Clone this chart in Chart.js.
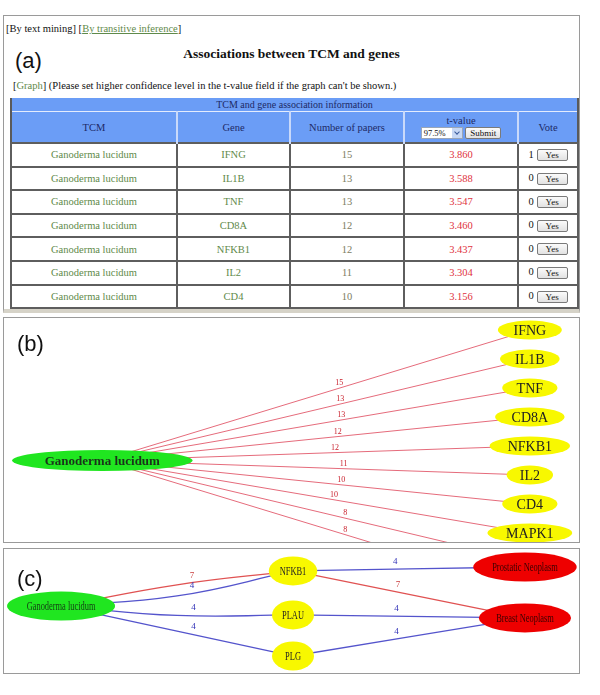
<!DOCTYPE html>
<html>
<head>
<meta charset="utf-8">
<script src="https://cdn.jsdelivr.net/npm/chart.js@4.4.1/dist/chart.umd.min.js"></script>
<style>
  body { margin:0; width:600px; height:695px; background:#fff; position:relative; overflow:hidden;
         font-family:"Liberation Serif","DejaVu Serif",serif; color:#111; }
  .panel { position:absolute; left:3px; width:575px; border:1px solid #9a9a9a; background:#fff; }
  #panelA { top:15px; height:293px; border-bottom:4px solid #d6d3c8; }
  #panelB { top:317px; height:224px; }
  #panelC { top:548px; height:124px; }
  .plabel { position:absolute; font-family:"Liberation Sans",Arial,sans-serif; font-size:22px; line-height:22px; color:#111; z-index:2; }
  .lnk { color:#5f8a4a; }
  .u { text-decoration:underline; }
  #tabs { position:absolute; left:2px; top:6px; font-size:10.5px; line-height:14px; }
  #title { position:absolute; left:0; width:575px; top:30px; text-align:center; font-weight:bold; font-size:13.5px; line-height:16px; }
  #graphLine { position:absolute; left:9px; top:63px; font-size:10.5px; line-height:14px; }
  #assoc { position:absolute; left:6px; top:82px; width:567px; border-collapse:collapse; table-layout:fixed;
           font-size:10.5px; border-left:2px solid #5a5a5a; border-right:2px solid #5a5a5a; }
  #assoc td, #assoc th { padding:0; text-align:center; }
  #assoc tr.bar td { background:#6b9df6; color:#1d2a66; height:13px; font-size:10px; line-height:12px; border-bottom:1px solid #e4ecfd; }
  #assoc tr.head th { background:#6b9df6; color:#1d2a66; font-weight:normal; height:30px; line-height:11px;
                      border-left:2px solid #c9d9fa; vertical-align:middle; }
  #assoc tr.head th:first-child { border-left:none; }
  #assoc tr.row td { height:21.6px; border:2px solid #5e5e5e; color:#5f8a4a; }
  #assoc tr.row td.num { color:#7d7d62; }
  #assoc tr.row td.tv { color:#e0323e; }
  #assoc tr.row td.vote { color:#111; }
  .btn { display:inline-block; border:1px solid #7a7a7a; border-radius:2px; background:linear-gradient(#fbfbfb,#e2e2e2);
         font-size:9px; line-height:10px; height:10px; padding:0 4px; color:#111; vertical-align:middle; }
  .yes { width:21px; text-align:center; margin-left:3px; }
  .sel { display:inline-block; border:1px solid #9aa6b8; background:#fff; font-size:8.5px; line-height:10px; height:10px;
         width:40px; text-align:left; position:relative; vertical-align:middle; color:#111; }
  .sel span.t { padding-left:2px; }
  .sel span.a { position:absolute; right:0; top:0; width:10px; height:10px; background:#c8d8f4; }
  .sel span.a:after { content:""; position:absolute; left:3px; top:2px; width:3px; height:3px;
                      border-right:1px solid #3a5a9a; border-bottom:1px solid #3a5a9a; transform:rotate(45deg); }
  .chartBox { position:absolute; left:0; top:0; width:575px; }
</style>
</head>
<body>

<div id="panelA" class="panel">
  <div id="tabs">[By text mining] [<span class="lnk u">By transitive inference</span>]</div>
  <div class="plabel" style="left:11px; top:34px;">(a)</div>
  <div id="title">Associations between TCM and genes</div>
  <div id="graphLine">[<span class="lnk">Graph</span>] (Please set higher confidence level in the t-value field if the graph can't be shown.)</div>
  <table id="assoc"></table>
</div>

<div id="panelB" class="panel">
  <div class="plabel" style="left:13px; top:15px;">(b)</div>
  <div class="chartBox" style="height:224px;"><canvas id="chartB"></canvas></div>
</div>

<div id="panelC" class="panel">
  <div class="plabel" style="left:13px; top:19px;">(c)</div>
  <div class="chartBox" style="height:124px;"><canvas id="chartC"></canvas></div>
</div>

<script>
// ---- Panel (a): association table
const tcmName = 'Ganoderma lucidum';
const tableGenes = ['IFNG', 'IL1B', 'TNF', 'CD8A', 'NFKB1', 'IL2', 'CD4'];
const tablePapers = [15, 13, 13, 12, 12, 11, 10];
const tableTValues = ['3.860', '3.588', '3.547', '3.460', '3.437', '3.304', '3.156'];
const tableVotes = [1, 0, 0, 0, 0, 0, 0];
const tableColumns = ['TCM', 'Gene', 'Number of papers', 't-value', 'Vote'];
const confidenceLevel = '97.5%';

// ---- Panel (b): TCM -> gene graph (genes listed top to bottom, last two fall below the frame)
const graphGenes = ['IFNG', 'IL1B', 'TNF', 'CD8A', 'NFKB1', 'IL2', 'CD4', 'MAPK1', '', ''];
const graphPapers = [15, 13, 13, 12, 12, 11, 10, 10, 8, 8];

// ---- Panel (c): transitive inference network
const netNodes = ['Ganoderma lucidum', 'NFKB1', 'PLAU', 'PLG', 'Prostatic Neoplasm', 'Breast Neoplasm'];
const netNodeKind = ['tcm', 'gene', 'gene', 'gene', 'disease', 'disease'];
const netNodeCol = [0, 1, 1, 1, 2, 2];
const netNodeRow = [46, 17.7, 53.2, 86.3, 14.5, 55.6];
const netEdgeFrom = [0, 0, 0, 0, 1, 1, 2, 3];
const netEdgeTo = [1, 1, 2, 3, 4, 5, 5, 5];
const netEdgePapers = [7, 4, 4, 4, 4, 7, 4, 4];
const netEdgeType = ['mined', 'inferred', 'inferred', 'inferred', 'inferred', 'mined', 'inferred', 'inferred'];
const netEdgeBend = [-3, 6, 4, 0, 0, 0, 0, 0];

// build table
const table = document.getElementById('assoc');
const colWidths = [166, 113, 114, 114, 60];
let html = '<colgroup>' + colWidths.map(w => `<col style="width:${w}px">`).join('') + '</colgroup>';
html += '<tr class="bar"><td colspan="5">TCM and gene association information</td></tr>';
html += '<tr class="head">' + tableColumns.map(c => {
    if (c === 't-value') {
        return `<th>${c}<br><span class="sel"><span class="t">${confidenceLevel}</span><span class="a"></span></span> <span class="btn">Submit</span></th>`;
    }
    return `<th>${c}</th>`;
}).join('') + '</tr>';
tableGenes.forEach((g, i) => {
    html += `<tr class="row"><td>${tcmName}</td><td>${g}</td><td class="num">${tablePapers[i]}</td>` +
            `<td class="tv">${tableTValues[i]}</td><td class="vote">${tableVotes[i]}<span class="btn yes">Yes</span></td></tr>`;
});
table.innerHTML = html;

// ---- shared drawing for graph nodes and edge labels
const graphPlugin = {
    id: 'graphNodes',
    afterDatasetsDraw(chart, args, opts) {
        const ctx = chart.ctx;
        const area = chart.chartArea;
        const meta = chart.getDatasetMeta(0);
        ctx.save();
        ctx.beginPath();
        ctx.rect(area.left, area.top, area.right - area.left, area.bottom - area.top);
        ctx.clip();

        // node radii from their text
        const radii = opts.nodes.map(n => {
            ctx.font = n.font;
            const tw = ctx.measureText(n.label).width * n.squeeze;
            return Math.max(n.minRx, tw / 2 * 1.41 + n.pad);
        });

        // edge labels
        opts.edges.forEach(e => {
            const pts = chart.getDatasetMeta(e.dataset).data;
            const a = pts[0], b = pts[pts.length - 1];
            const xl = ((a.x + radii[e.from]) + (b.x - radii[e.to])) / 2 - e.shift;
            let yl = a.y;
            for (let k = 0; k < pts.length - 1; k++) {
                const p = pts[k], q = pts[k + 1];
                if (xl >= p.x && xl <= q.x) { yl = p.y + (q.y - p.y) * (xl - p.x) / (q.x - p.x); }
            }
            ctx.font = e.font;
            ctx.fillStyle = e.color;
            ctx.textAlign = 'center';
            ctx.textBaseline = 'bottom';
            ctx.fillText(e.label, xl, yl - e.lift);
        });

        // nodes
        opts.nodes.forEach((n, i) => {
            const p = meta.data[i];
            ctx.beginPath();
            ctx.ellipse(p.x, p.y, radii[i], n.ry, 0, 0, Math.PI * 2);
            ctx.fillStyle = n.fill;
            ctx.fill();
            ctx.save();
            ctx.translate(p.x, p.y + 1);
            ctx.scale(n.squeeze, 1);
            ctx.font = n.font;
            ctx.fillStyle = n.color;
            ctx.textAlign = 'center';
            ctx.textBaseline = 'middle';
            ctx.fillText(n.label, 0, 0);
            ctx.restore();
        });
        ctx.restore();
    }
};

const baseOptions = (xMin, xMax, yMin, yMax) => ({
    responsive: true,
    maintainAspectRatio: false,
    animation: false,
    events: [],
    layout: { padding: 0 },
    plugins: { legend: { display: false }, tooltip: { enabled: false } },
    scales: {
        x: { type: 'linear', min: xMin, max: xMax, display: false },
        y: { type: 'linear', min: yMin, max: yMax, reverse: true, display: false }
    }
});

// ---- Panel (b) chart
const tcmRowB = (graphGenes.length - 1) / 2;
const nodesB = [{ x: 0, y: tcmRowB }].concat(graphGenes.map((g, i) => ({ x: 1, y: i })));
const datasetsB = [{ data: nodesB, pointRadius: 0, showLine: false }];
const edgesB = [];
graphGenes.forEach((g, i) => {
    datasetsB.push({
        data: [{ x: 0, y: tcmRowB }, { x: 1, y: i }],
        showLine: true, pointRadius: 0, borderColor: 'rgba(222,70,90,0.8)', borderWidth: 1
    });
    edgesB.push({ dataset: i + 1, from: 0, to: i + 1, label: String(graphPapers[i]),
                  font: '8px "Liberation Serif"', color: '#c81e2a', lift: 1, shift: 6 });
});
new Chart(document.getElementById('chartB'), {
    type: 'scatter',
    data: { datasets: datasetsB },
    options: Object.assign(baseOptions(-0.230, 1.115, -0.414, 7.31), {
        plugins: {
            legend: { display: false }, tooltip: { enabled: false },
            graphNodes: {
                nodes: [{ label: tcmName, font: 'bold 13px "Liberation Serif"', fill: '#20e620', color: '#1a331a',
                          squeeze: 1, pad: 9, minRx: 20, ry: 10.5 }]
                    .concat(graphGenes.map(g => ({ label: g, font: '14px "Liberation Serif"', fill: '#f8f800', color: '#222',
                                                   squeeze: 1, pad: 9, minRx: 20, ry: 9.5 }))),
                edges: edgesB
            }
        }
    }),
    plugins: [graphPlugin]
});

// ---- Panel (c) chart
const kindFill = { tcm: '#20e620', gene: '#f8f800', disease: '#ee0000' };
const kindText = { tcm: '#143d14', gene: '#222', disease: '#3a0000' };
const edgeColor = { mined: '#e05252', inferred: '#5454cc' };
const labelColor = { mined: '#c83a3a', inferred: '#3434b8' };
const nodesC = netNodes.map((n, i) => ({ x: netNodeCol[i], y: netNodeRow[i] }));
const datasetsC = [{ data: nodesC, pointRadius: 0, showLine: false }];
const edgesC = [];
netEdgeFrom.forEach((f, i) => {
    const a = nodesC[f], b = nodesC[netEdgeTo[i]];
    const pts = netEdgeBend[i] === 0
        ? [a, b]
        : [a, { x: (a.x + b.x) / 2, y: (a.y + b.y) / 2 + netEdgeBend[i] }, b];
    datasetsC.push({
        data: pts, showLine: true, pointRadius: 0, tension: 0.45,
        borderColor: edgeColor[netEdgeType[i]], borderWidth: 1.3
    });
    edgesC.push({ dataset: i + 1, from: f, to: netEdgeTo[i], label: String(netEdgePapers[i]),
                  font: '9px "Liberation Serif"', color: labelColor[netEdgeType[i]], lift: 3, shift: 0 });
});
new Chart(document.getElementById('chartC'), {
    type: 'scatter',
    data: { datasets: datasetsC },
    options: Object.assign(baseOptions(-0.246, 2.233, 0, 100), {
        plugins: {
            legend: { display: false }, tooltip: { enabled: false },
            graphNodes: {
                nodes: netNodes.map((n, i) => ({ label: n, font: '12px "Liberation Serif"', fill: kindFill[netNodeKind[i]],
                                                 color: kindText[netNodeKind[i]], squeeze: 0.7, pad: 5.5, minRx: 21, ry: 14.5 })),
                edges: edgesC
            }
        }
    }),
    plugins: [graphPlugin]
});
</script>
</body>
</html>
